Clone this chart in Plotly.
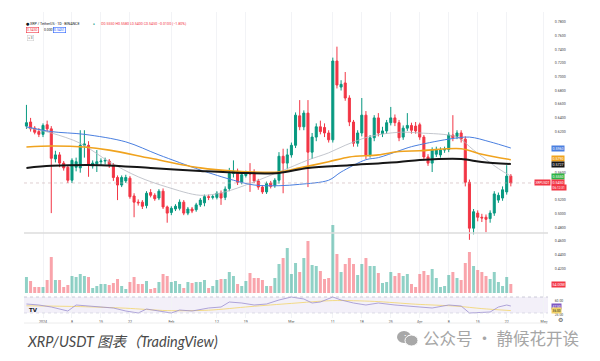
import plotly.graph_objects as go
import pandas as pd

# ---------------- data ----------------
dates = pd.date_range("2023-12-28", "2024-04-23", freq="D")

opens = [0.628,0.634,0.625,0.620,0.616,0.630,0.624,0.580,0.586,0.574,0.568,0.549,0.568,0.567,0.600,0.600,
         0.570,0.573,0.576,0.577,0.577,0.571,0.553,0.542,0.548,0.552,0.526,0.517,0.517,0.512,0.531,0.527,
         0.523,0.533,0.510,0.502,0.507,0.508,0.517,0.501,0.507,0.506,0.513,0.516,0.525,0.524,0.524,0.530,
         0.524,0.537,0.559,0.562,0.546,0.556,0.560,0.561,0.548,0.539,0.532,0.545,0.541,0.549,0.584,0.574,
         0.586,0.600,0.643,0.627,0.647,0.590,0.612,0.627,0.626,0.618,0.608,0.723,0.685,0.691,0.669,0.634,
         0.603,0.618,0.644,0.586,0.611,0.640,0.617,0.621,0.633,0.640,0.633,0.612,0.625,0.629,0.628,0.630,
         0.612,0.583,0.574,0.587,0.586,0.593,0.594,0.615,0.613,0.618,0.609,0.546,0.479,0.501,0.495,0.495,
         0.493,0.501,0.520,0.523,0.532,0.555]
highs = [0.659,0.640,0.628,0.625,0.632,0.636,0.628,0.592,0.590,0.577,0.571,0.581,0.582,0.622,0.622,0.606,
         0.578,0.593,0.581,0.582,0.580,0.574,0.556,0.556,0.557,0.555,0.530,0.521,0.520,0.533,0.536,0.530,
         0.536,0.537,0.512,0.511,0.514,0.521,0.520,0.510,0.510,0.516,0.523,0.528,0.528,0.528,0.533,0.534,
         0.540,0.567,0.578,0.566,0.560,0.563,0.574,0.565,0.551,0.542,0.547,0.548,0.552,0.590,0.595,0.595,
         0.604,0.648,0.666,0.651,0.666,0.618,0.632,0.636,0.632,0.622,0.728,0.744,0.695,0.707,0.673,0.637,
         0.622,0.669,0.650,0.615,0.644,0.647,0.627,0.637,0.656,0.645,0.637,0.629,0.647,0.633,0.634,0.633,
         0.615,0.587,0.597,0.598,0.597,0.598,0.619,0.644,0.622,0.622,0.613,0.550,0.507,0.505,0.500,0.499,
         0.505,0.533,0.531,0.540,0.571,0.558]
lows = [0.624,0.620,0.616,0.612,0.612,0.620,0.501,0.575,0.568,0.563,0.545,0.545,0.562,0.560,0.582,0.554,
        0.566,0.561,0.571,0.572,0.567,0.548,0.520,0.539,0.545,0.522,0.495,0.512,0.507,0.508,0.524,0.519,
        0.520,0.507,0.487,0.498,0.504,0.505,0.498,0.498,0.501,0.503,0.510,0.511,0.520,0.521,0.521,0.513,
        0.520,0.533,0.553,0.542,0.543,0.553,0.532,0.545,0.535,0.529,0.529,0.537,0.538,0.544,0.530,0.565,
        0.582,0.596,0.622,0.622,0.539,0.580,0.606,0.616,0.612,0.604,0.604,0.683,0.680,0.665,0.628,0.598,
        0.598,0.613,0.580,0.582,0.606,0.613,0.612,0.617,0.629,0.628,0.606,0.608,0.621,0.617,0.617,0.608,
        0.578,0.570,0.561,0.583,0.582,0.589,0.590,0.606,0.609,0.604,0.540,0.462,0.470,0.489,0.488,0.473,
        0.487,0.497,0.516,0.519,0.528,0.540]
closes = [0.633,0.624,0.619,0.616,0.629,0.624,0.581,0.586,0.574,0.567,0.549,0.578,0.576,0.600,0.602,0.571,
          0.574,0.576,0.577,0.578,0.571,0.553,0.542,0.553,0.553,0.525,0.517,0.516,0.511,0.530,0.527,0.522,
          0.533,0.510,0.501,0.508,0.511,0.517,0.501,0.507,0.504,0.513,0.520,0.525,0.524,0.525,0.530,0.523,
          0.536,0.559,0.562,0.546,0.557,0.560,0.558,0.548,0.539,0.532,0.544,0.540,0.549,0.584,0.574,0.586,
          0.600,0.644,0.627,0.647,0.590,0.612,0.627,0.620,0.618,0.608,0.723,0.688,0.689,0.669,0.634,0.603,
          0.618,0.644,0.586,0.611,0.640,0.618,0.621,0.633,0.640,0.633,0.611,0.625,0.629,0.622,0.621,0.612,
          0.583,0.574,0.593,0.594,0.593,0.594,0.615,0.611,0.618,0.609,0.546,0.479,0.503,0.495,0.494,0.492,
          0.501,0.529,0.527,0.535,0.555,0.545]
volume_m = [96,72,36,36,36,78,216,78,78,36,48,102,96,114,102,96,30,42,54,54,48,60,84,42,24,66,96,54,54,72,
            24,30,66,114,102,66,72,54,30,66,60,66,66,78,30,42,78,84,84,126,102,54,42,72,120,90,90,78,42,42,
            90,174,210,270,114,180,126,210,312,168,162,132,84,90,408,234,126,174,210,174,108,174,210,162,162,
            120,60,66,126,102,120,102,114,54,36,114,132,108,144,90,36,42,108,126,90,78,180,246,162,138,126,
            102,84,126,66,42,96,54]

ma_blue_dates = ["2023-12-28","2024-01-03","2024-01-11","2024-01-21","2024-01-29","2024-02-08","2024-02-16",
                 "2024-02-21","2024-02-27","2024-03-03","2024-03-10","2024-03-13","2024-03-19","2024-03-22",
                 "2024-03-27","2024-03-30","2024-04-08","2024-04-13","2024-04-18","2024-04-23"]
ma_blue = [0.627,0.620,0.616,0.605,0.586,0.564,0.549,0.542,0.541,0.543,0.549,0.561,0.579,0.582,0.592,
           0.598,0.609,0.612,0.605,0.596]
ma_orange_dates = ["2023-12-28","2024-01-03","2024-01-11","2024-01-17","2024-01-27","2024-02-08","2024-02-16",
                   "2024-02-27","2024-03-03","2024-03-10","2024-03-15","2024-03-22","2024-03-27","2024-04-01",
                   "2024-04-11","2024-04-16","2024-04-23"]
ma_orange = [0.5975,0.599,0.5975,0.593,0.581,0.567,0.5625,0.561,0.567,0.576,0.583,0.586,0.591,0.592,
             0.595,0.587,0.579]
ma_black_dates = ["2023-12-28","2024-01-03","2024-01-15","2024-01-27","2024-02-08","2024-02-18","2024-02-27",
                  "2024-03-05","2024-03-15","2024-03-27","2024-04-01","2024-04-11","2024-04-16","2024-04-23"]
ma_black = [0.567,0.570,0.571,0.567,0.5625,0.5596,0.5596,0.567,0.571,0.5756,0.5785,0.580,0.5756,0.5727]
ma_gray_dates = ["2023-12-28","2024-01-03","2024-01-10","2024-01-17","2024-01-24","2024-01-31","2024-02-08",
                 "2024-02-14","2024-02-27","2024-03-05","2024-03-10","2024-03-14","2024-03-20","2024-03-27",
                 "2024-04-01","2024-04-10","2024-04-14","2024-04-20","2024-04-23"]
ma_gray = [0.626,0.618,0.603,0.576,0.554,0.539,0.527,0.532,0.561,0.5785,0.589,0.600,0.613,0.619,0.618,
           0.612,0.593,0.566,0.555]

rsi_dates = ["2023-12-28","2023-12-31","2024-01-03","2024-01-07","2024-01-09","2024-01-12","2024-01-15",
             "2024-01-18","2024-01-21","2024-01-24","2024-01-26","2024-01-29","2024-02-01","2024-02-03",
             "2024-02-06","2024-02-10","2024-02-13","2024-02-15","2024-02-18","2024-02-21","2024-02-24",
             "2024-02-27","2024-03-01","2024-03-04","2024-03-06","2024-03-08","2024-03-11","2024-03-13",
             "2024-03-16","2024-03-19","2024-03-22","2024-03-26","2024-03-29","2024-04-01","2024-04-04",
             "2024-04-08","2024-04-11","2024-04-13","2024-04-16","2024-04-18","2024-04-20","2024-04-22",
             "2024-04-23"]
rsi = [52.5,50,45,35,50,47.5,45,42.5,35,30,40,35,30,37.5,35,42.5,45,57.5,55,50,52.5,62.5,70,65,55,57.5,
       70,62.5,55,50,55,50,47.5,45,42.5,50,47.5,30,32.5,32.5,45,50,47.5]
rsi_ma_dates = ["2023-12-28","2024-01-10","2024-01-21","2024-01-31","2024-02-10","2024-02-20","2024-03-01",
                "2024-03-11","2024-03-21","2024-03-31","2024-04-10","2024-04-16","2024-04-23"]
rsi_ma = [48,46,42,36,37,46,54,61,59,52,47,41,36]

tick_dates = ["2024-01-01","2024-01-08","2024-01-15","2024-01-22","2024-02-01","2024-02-12","2024-02-19",
              "2024-03-01","2024-03-11","2024-03-18","2024-03-25","2024-04-01","2024-04-08","2024-04-15",
              "2024-04-22","2024-05-01"]
tick_text = ["2024","8","15","22","Feb","12","19","Mar","11","18","25","Apr","8","15","22","May"]
price_ticks = [0.78,0.76,0.74,0.72,0.70,0.68,0.66,0.64,0.62,0.56,0.52,0.50,0.48,0.46,0.44,0.42]
hline_level = 0.472

# ---------------- styling ----------------
W, H = 600, 361
UP, DN = "#089981", "#f23645"
FONT = "Roboto"

def px(x):
    return x / W

def py(y):
    return 1 - y / H

X0, X1 = 24, 548
ytop_price = 0.78 + (22 - 12) / 685
ybot_price = 0.78 - (296 - 22) / 685

fig = go.Figure()

vcol = ["rgba(8,153,129,0.45)" if c >= o else "rgba(242,54,69,0.45)" for o, c in zip(opens, closes)]
fig.add_trace(go.Bar(x=dates, y=volume_m, marker=dict(color=vcol, line=dict(width=0)),
                     width=0.72 * 86400000, yaxis="y", xaxis="x", hoverinfo="skip"))

fig.add_trace(go.Candlestick(x=dates, open=opens, high=highs, low=lows, close=closes,
                             increasing=dict(line=dict(color=UP, width=1), fillcolor=UP),
                             decreasing=dict(line=dict(color=DN, width=1), fillcolor=DN),
                             whiskerwidth=0, yaxis="y2", xaxis="x", hoverinfo="skip"))

for dts, vals, col, wd in [(ma_gray_dates, ma_gray, "#b4b8c0", 0.8),
                           (ma_blue_dates, ma_blue, "#4a7fe0", 1.0),
                           (ma_orange_dates, ma_orange, "#f0a31e", 1.6),
                           (ma_black_dates, ma_black, "#161616", 2.0)]:
    fig.add_trace(go.Scatter(x=dts, y=vals, mode="lines", yaxis="y2", xaxis="x",
                             line=dict(color=col, width=wd, shape="spline", smoothing=0.9),
                             hoverinfo="skip"))

fig.add_trace(go.Scatter(x=rsi_ma_dates, y=rsi_ma, mode="lines", yaxis="y3", xaxis="x",
                         line=dict(color="#f3d46a", width=0.8, shape="spline", smoothing=0.8), hoverinfo="skip"))
fig.add_trace(go.Scatter(x=rsi_dates, y=rsi, mode="lines", yaxis="y3", xaxis="x",
                         line=dict(color="#9c8fd0", width=0.8), hoverinfo="skip"))

last_close = closes[-1]
shapes = [
    dict(type="rect", xref="paper", yref="y3", x0=px(X0), x1=px(X1), y0=30, y1=70,
         fillcolor="rgba(126,87,194,0.09)", line=dict(width=0), layer="below"),
    dict(type="line", xref="paper", yref="y3", x0=px(X0), x1=px(X1), y0=70, y1=70,
         line=dict(color="#b8b8c8", width=0.7, dash="dot")),
    dict(type="line", xref="paper", yref="y3", x0=px(X0), x1=px(X1), y0=30, y1=30,
         line=dict(color="#d0d0dc", width=0.7, dash="dot")),
    dict(type="line", xref="paper", yref="y2", x0=px(X0), x1=px(X1), y0=last_close, y1=last_close,
         line=dict(color="rgba(200,170,175,0.7)", width=0.8, dash="dot")),
    dict(type="line", xref="paper", yref="y2", x0=px(X0), x1=px(X1), y0=hline_level, y1=hline_level,
         line=dict(color="#dcdcdc", width=1.4)),
    dict(type="line", xref="paper", yref="paper", x0=px(X0), x1=px(X1), y0=py(323), y1=py(323),
         line=dict(color="#ececec", width=1)),
    # wechat-like icon
    dict(type="circle", xref="paper", yref="paper", x0=px(397), x1=px(411), y0=py(343), y1=py(331),
         fillcolor="#a8a8a8", line=dict(width=0)),
    dict(type="circle", xref="paper", yref="paper", x0=px(405), x1=px(418), y0=py(346), y1=py(335),
         fillcolor="#a8a8a8", line=dict(width=1, color="white")),
]

ann = []
def box(x, y, text, bg, fg="white", yref="y2", xanchor="left", size=3.6):
    ann.append(dict(x=x, y=y, xref="paper", yref=yref, text=text, showarrow=False, xanchor=xanchor,
                    yanchor="middle", bgcolor=bg, borderpad=0.6,
                    font=dict(size=size, color=fg, family=FONT)))

box(px(551), ma_blue[-1], f"{ma_blue[-1]:.4f}", "#4a7fe0")
box(px(551), ma_orange[-1] + 0.002, f"{ma_orange[-1]:.4f}", "#f0a31e")
box(px(551), ma_black[-1] - 0.001, f"{ma_black[-1]:.4f}", "#161616")
box(px(551), ma_gray[-1], f"{ma_gray[-1]:.4f}", "#2fb344")
box(px(551), last_close, f"{last_close:.4f}", DN)
box(px(551), last_close - 0.0065, "06:12:31", DN, size=3.2)
box(px(551), last_close, "XRPUSDT", DN, xanchor="right", size=3.2)
box(px(551), volume_m[-1], f"{volume_m[-1]:.2f}M", DN, yref="y")
box(px(551), rsi[-1], f"{rsi[-1]:.2f}", "#7e57c2", yref="y3", size=3.2)
box(px(551), rsi_ma[-1], f"{rsi_ma[-1]:.2f}", "#f3d46a", fg="#222", yref="y3", size=3.2)

chg = closes[-1] - closes[-2]
hdr = (f"O{opens[-1]:.4f} H{highs[-1]:.4f} L{lows[-1]:.4f} C{closes[-1]:.4f} "
       f"{chg:+.4f} ({chg / closes[-2] * 100:+.2f}%)").replace("-", "−")
def txt(x, y, text, size, color, xanchor="left", family=FONT, **kw):
    ann.append(dict(x=px(x), y=py(y), xref="paper", yref="paper", text=text, showarrow=False,
                    xanchor=xanchor, yanchor="middle", font=dict(size=size, color=color, family=family), **kw))

txt(24, 24, "⬤", 2.6, "#131722")
txt(28, 24, "XRP / TetherUS · 1D · BINANCE", 3.6, "#131722")
txt(91, 24, "●", 3.2, UP)
txt(99, 24, hdr, 3.6, DN)
ann.append(dict(x=px(26), y=py(30.5), xref="paper", yref="paper", text=f"{closes[-1]:.4f}", showarrow=False,
                xanchor="left", yanchor="middle", bordercolor=DN, borderwidth=0.6, borderpad=0.5,
                font=dict(size=3.4, color=DN, family=FONT)))
txt(42, 30.5, "0.0001", 3.4, "#131722")
ann.append(dict(x=px(53), y=py(30.5), xref="paper", yref="paper", text=f"{closes[-1] + 0.0001:.4f}",
                showarrow=False, xanchor="left", yanchor="middle", bordercolor="#2962ff", borderwidth=0.6,
                borderpad=0.5, font=dict(size=3.4, color="#2962ff", family=FONT)))
ann.append(dict(x=px(27), y=py(37.5), xref="paper", yref="paper", text="∨ 3", showarrow=False,
                xanchor="left", yanchor="middle", bordercolor="#c8c8c8", borderwidth=0.5, borderpad=0.4,
                font=dict(size=3.2, color="#444", family=FONT)))
txt(27, 310, "<b>TV</b>", 5.5, "#131722", family="DejaVu Sans")
txt(560, 319.5, "⚙", 6, "#555", xanchor="center", family="DejaVu Sans")
txt(25, 341, "<i>XRP/USDT 图表（TradingView)</i>", 14.5, "#4a4a4a", family="Lato, Noto Sans CJK SC")
txt(421, 337.5, "公众号 · 静候花开诶", 16.5, "#a6a6a6", family="Noto Sans CJK SC")
# eyes of icon
txt(401.5, 335.5, "• •", 4, "white", family="DejaVu Sans")

fig.update_layout(
    width=W, height=H, margin=dict(l=0, r=0, t=0, b=0),
    paper_bgcolor="white", plot_bgcolor="rgba(0,0,0,0)", showlegend=False, hovermode=False,
    shapes=shapes, annotations=ann,
    xaxis=dict(type="date", domain=[px(X0), px(X1)], range=["2023-12-27 09:50", "2024-05-01 23:30"],
               anchor="y3", rangeslider=dict(visible=False), tickmode="array", tickvals=tick_dates,
               ticktext=tick_text, tickfont=dict(size=3.6, color="#444", family=FONT), ticks="",
               showgrid=True, gridcolor="#f2f3f6", gridwidth=1, showline=False, zeroline=False),
    yaxis=dict(domain=[py(296), py(12)], range=[-18, -18 + 284 * 6], visible=False, fixedrange=True),
    yaxis2=dict(overlaying="y", anchor="x", side="right", range=[ybot_price, ytop_price],
                tickmode="array", tickvals=price_ticks, ticktext=[f"{v:.4f}" for v in price_ticks],
                tickfont=dict(size=3.6, color="#444", family=FONT), ticks="outside", ticklen=5,
                tickcolor="rgba(0,0,0,0)", showgrid=False, zeroline=False, showline=False),
    yaxis3=dict(domain=[py(318), py(296)], anchor="x", side="right", range=[17.5, 72.5],
                tickmode="array", tickvals=[60, 25], ticktext=["60.00", "25.00"],
                tickfont=dict(size=3.4, color="#444", family=FONT), ticks="outside", ticklen=5,
                tickcolor="rgba(0,0,0,0)", showgrid=False, zeroline=False, showline=False),
)

fig.write_html("out.html", config={"displayModeBar": False, "staticPlot": True},
               post_script="document.body.style.margin='0px';document.body.style.overflow='hidden';")
